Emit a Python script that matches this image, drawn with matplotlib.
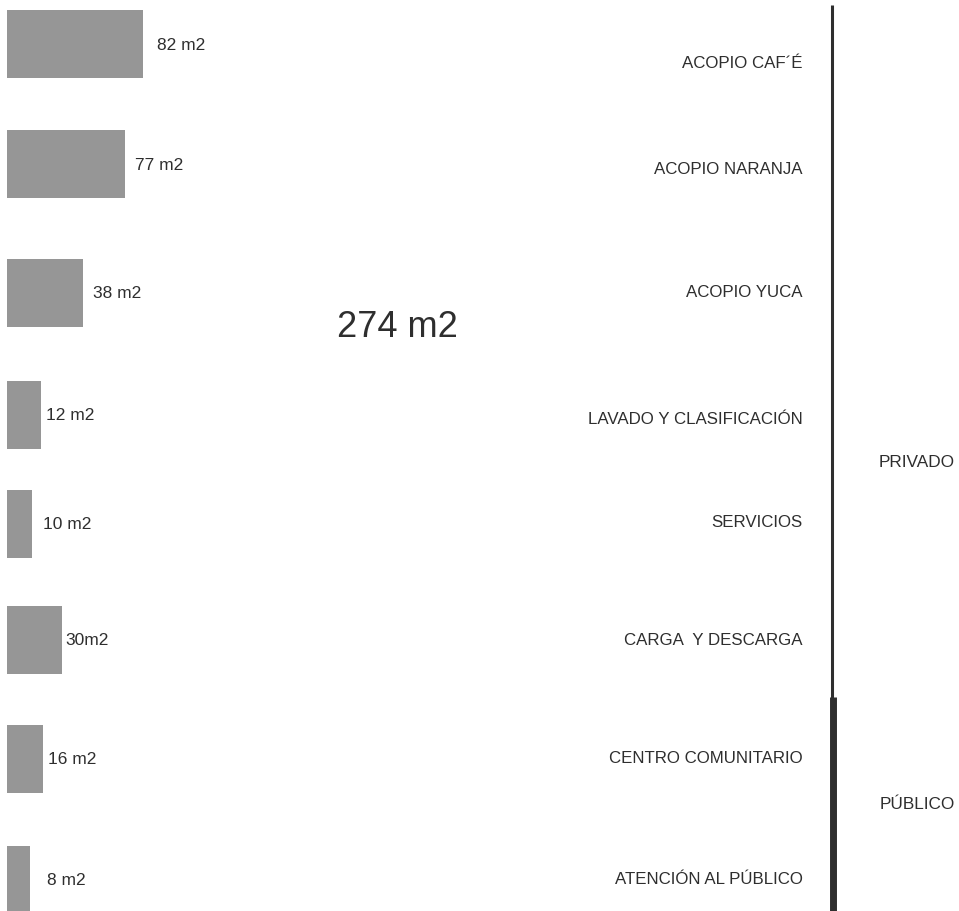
import matplotlib.pyplot as plt

# data
categories = ['ACOPIO CAF\u00b4É', 'ACOPIO NARANJA', 'ACOPIO YUCA',
              'LAVADO Y CLASIFICACIÓN', 'SERVICIOS', 'CARGA  Y DESCARGA',
              'CENTRO COMUNITARIO', 'ATENCIÓN AL PÚBLICO']
area_labels = ['82 m2', '77 m2', '38 m2', '12 m2', '10 m2', '30m2', '16 m2', '8 m2']
bar_len = [136, 118, 76, 33.5, 25, 54.5, 36, 23]   # drawn bar lengths
total_label = '274 m2'
groups = ['PRIVADO', 'PÚBLICO']

# layout (pixel units, y down)
row_y = [45, 165, 294, 416, 524.5, 641, 760, 881]
cat_y = [64, 170, 293, 420, 523, 641, 759, 880]
val_gap = [14, 10, 10, 5, 11, 4, 5, 17]
bar_h = 68
text_col = '#2e2e2e'
bar_col = '#969696'

plt.rcParams['font.family'] = ['Liberation Sans', 'DejaVu Sans']

fig = plt.figure(figsize=(9.59, 9.12), dpi=100)
ax = fig.add_axes([0, 0, 1, 1])
ax.set_xlim(0, 959)
ax.set_ylim(912, 0)
ax.axis('off')

ax.barh(row_y, bar_len, height=bar_h, left=7, color=bar_col)

for i in range(len(categories)):
    ax.text(7 + bar_len[i] + val_gap[i], row_y[i], area_labels[i],
            fontsize=12.5, color=text_col, va='center', ha='left')
    ax.text(803, cat_y[i], categories[i], fontsize=12.2, color=text_col,
            va='center', ha='right')

ax.text(397, 328, total_label, fontsize=26, color=text_col, va='center', ha='center')

# divider line
ax.plot([832, 832], [6, 700], color=text_col, lw=2.2, solid_capstyle='butt')
ax.plot([832.5, 832.5], [698, 912], color=text_col, lw=5, solid_capstyle='butt')

ax.text(917, 463, groups[0], fontsize=12.4, color=text_col, va='center', ha='center')
ax.text(917, 805, groups[1], fontsize=12.4, color=text_col, va='center', ha='center')

fig.savefig('out.png', dpi=100)
